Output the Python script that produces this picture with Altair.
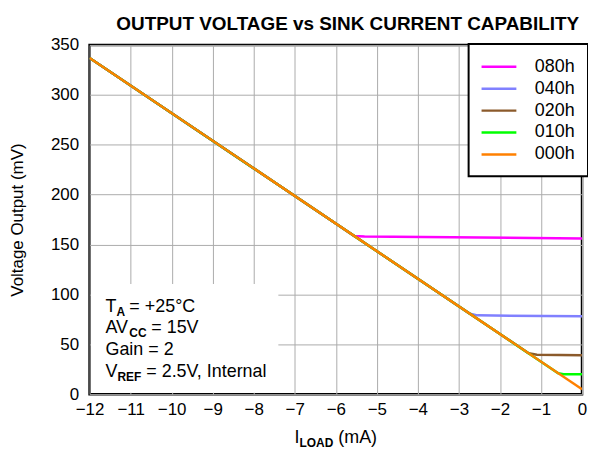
import altair as alt
import pandas as pd

FONT = "Liberation Sans"

# ---- data ----
series_names = ["080h", "040h", "020h", "010h", "000h"]
series_colors = ["#FF00FF", "#8080FF", "#8B5A2B", "#00FF00", "#FF8000"]

x_080h = [-12, -5.55, -5.3, 0]
y_080h = [337, 158.5, 158, 156]
x_040h = [-12, -2.75, -2.55, 0]
y_040h = [337, 81, 79, 78]
x_020h = [-12, -1.3, -1.1, 0]
y_020h = [337, 41, 39.5, 39]
x_010h = [-12, -0.58, -0.45, 0]
y_010h = [337, 21, 20, 20]
x_000h = [-12, 0]
y_000h = [337, 5]

x_ticks = list(range(-12, 1))
y_ticks = [0, 50, 100, 150, 200, 250, 300, 350]

# white annotation box (data units), kept just inside the frame
box_x = [-11.965, -7.4]
box_y = [1.3, 110.5]

# annotation texts: (text, x px, y px) relative to plot origin
note_main = ["T", "= +25°C", "AV", "= 15V", "Gain = 2", "V", "= 2.5V, Internal"]
note_main_x = [16, 40, 16, 62, 16, 16, 57]
note_main_y = [268, 268, 290, 290, 312, 334, 334]
note_sub = ["A", "CC", "REF"]
note_sub_x = [27, 40, 28]
note_sub_y = [272, 294, 338]

xt_main = ["I", "(mA)"]
xt_main_x = [206, 250]
xt_main_y = [400, 400]
xt_sub = ["LOAD"]
xt_sub_x = [211]
xt_sub_y = [404]

# ---- build tables ----
xs = {"080h": x_080h, "040h": x_040h, "020h": x_020h, "010h": x_010h, "000h": x_000h}
ys = {"080h": y_080h, "040h": y_040h, "020h": y_020h, "010h": y_010h, "000h": y_000h}
rows = []
for s in series_names:
    for xv, yv in zip(xs[s], ys[s]):
        rows.append({"series": s, "x": xv, "y": yv})
df = pd.DataFrame(rows)

box_df = pd.DataFrame({"x": [box_x[0]], "x2": [box_x[1]], "y": [box_y[0]], "y2": [box_y[1]]})

main_df = pd.DataFrame({"t": note_main + xt_main, "px": note_main_x + xt_main_x, "py": note_main_y + xt_main_y})
sub_df = pd.DataFrame({"t": note_sub + xt_sub, "px": note_sub_x + xt_sub_x, "py": note_sub_y + xt_sub_y})

xscale = alt.Scale(domain=[-12, 0], nice=False, zero=False)
yscale = alt.Scale(domain=[0, 350], nice=False)
xaxis = alt.Axis(values=x_ticks, title=None, labelPadding=7, format="d", labelOverlap=False,
                 labelFlush=False)
yaxis = alt.Axis(values=y_ticks, title="Voltage Output (mV)", labelPadding=11, titlePadding=24,
                 labelOverlap=False, labelFlush=False)

box = alt.Chart(box_df).mark_rect(fill="white", stroke=None).encode(
    x=alt.X("x:Q", scale=xscale, axis=xaxis),
    x2="x2:Q",
    y=alt.Y("y:Q", scale=yscale, axis=yaxis),
    y2="y2:Q",
)

lines = alt.Chart(df).mark_line(strokeWidth=2.5, clip=True).encode(
    x=alt.X("x:Q", scale=xscale, axis=xaxis),
    y=alt.Y("y:Q", scale=yscale, axis=yaxis),
    color=alt.Color(
        "series:N",
        scale=alt.Scale(domain=series_names, range=series_colors),
        legend=alt.Legend(
            title=None,
            orient="none",
            legendX=381,
            legendY=-1,
            symbolType="M-2,0L2,0",
            symbolSize=306,
            symbolStrokeWidth=2.5,
            symbolOffset=7.5,
            labelFontSize=18,
            labelFont=FONT,
            labelColor="black",
            labelOffset=26,
            padding=13,
            rowPadding=3,
            strokeColor="black",
            fillColor="white",
        ),
    ),
)

texts = alt.Chart(main_df).mark_text(
    align="left", baseline="alphabetic", fontSize=18, font=FONT, color="black"
).encode(
    x=alt.X("px:Q", scale=None, axis=None),
    y=alt.Y("py:Q", scale=None, axis=None),
    text="t:N",
)

subs = alt.Chart(sub_df).mark_text(
    align="left", baseline="alphabetic", fontSize=12, fontWeight="bold", font=FONT, color="black"
).encode(
    x=alt.X("px:Q", scale=None, axis=None),
    y=alt.Y("py:Q", scale=None, axis=None),
    text="t:N",
)

chart = alt.layer(box, lines, texts, subs).properties(
    width=495,
    height=351,
    background="white",
    autosize=alt.AutoSizeParams(type="none"),
    padding={"left": 82, "top": 36, "right": 6, "bottom": 60},
    title=alt.TitleParams(
        "OUTPUT VOLTAGE vs SINK CURRENT CAPABILITY",
        font=FONT,
        fontSize=19,
        fontWeight="bold",
        color="black",
        anchor="middle",
        dx=12,
        offset=2,
    ),
).configure_view(
    stroke="black", strokeWidth=2.5
).configure_legend(
    strokeWidth=2
).configure_axis(
    grid=True,
    gridColor="#ababab",
    gridWidth=1,
    domain=False,
    ticks=False,
    labelFont=FONT,
    labelFontSize=17,
    labelColor="black",
    titleFont=FONT,
    titleFontSize=17,
    titleFontWeight="normal",
    titleColor="black",
)

chart.save("out.html", embed_options={"renderer": "svg", "actions": False})
